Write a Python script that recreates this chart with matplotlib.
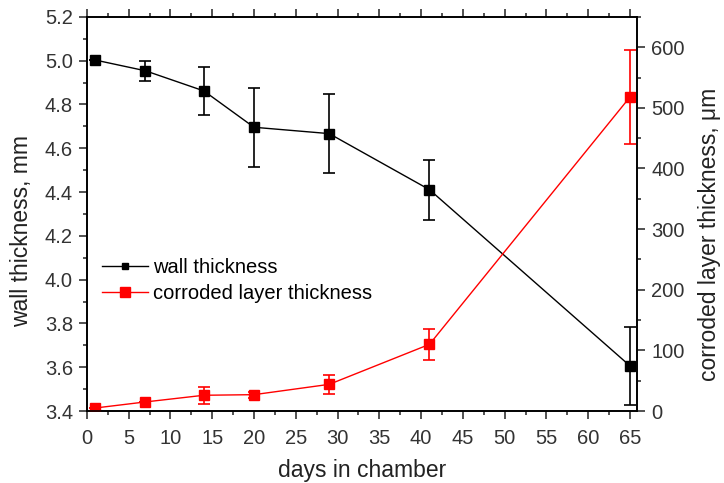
import matplotlib
matplotlib.use("Agg")
import matplotlib.pyplot as plt
from matplotlib.ticker import MultipleLocator
from matplotlib.lines import Line2D

plt.rcParams["font.family"] = ["Liberation Sans", "DejaVu Sans"]
plt.rcParams["font.size"] = 14.5

# data
days = [1, 7, 14, 20, 29, 41, 65]
wall = [5.003, 4.954, 4.862, 4.696, 4.667, 4.411, 3.606]
wall_err = [0.0, 0.045, 0.11, 0.18, 0.18, 0.137, 0.18]
layer = [5, 15, 26, 27, 44, 110, 518]
layer_err = [0, 0, 14, 5, 16, 26, 78]

fig = plt.figure(figsize=(7.24, 4.83), dpi=100)
ax = fig.add_axes([0.120, 0.149, 0.760, 0.816])
ax2 = ax.twinx()

ax.errorbar(days, wall, yerr=wall_err, color="black", marker="s", ms=7,
            lw=1.0, elinewidth=1.2, capsize=4, capthick=1.2)
ax2.errorbar(days, layer, yerr=layer_err, color="red", marker="s", ms=7,
             lw=1.0, elinewidth=1.2, capsize=4, capthick=1.2)

ax.set_xlim(0, 65.85)
ax.set_ylim(3.4, 5.2)
ax2.set_ylim(0, 650)

ax.xaxis.set_major_locator(MultipleLocator(5))
ax.xaxis.set_minor_locator(MultipleLocator(2.5))
ax.yaxis.set_major_locator(MultipleLocator(0.2))
ax.yaxis.set_minor_locator(MultipleLocator(0.1))
ax.yaxis.set_major_formatter(plt.FormatStrFormatter("%.1f"))
ax2.set_yticks([0, 100, 200, 300, 400, 500, 600])
ax2.yaxis.set_minor_locator(MultipleLocator(50))

for a in (ax, ax2):
    a.tick_params(which="both", direction="out", width=1.1, colors="#222222",
                  labelcolor="#333333", labelsize=14.5)
    a.tick_params(which="major", length=6, pad=4)
    a.tick_params(which="minor", length=3)
    for s in a.spines.values():
        s.set_linewidth(1.2)
ax.tick_params(which="both", top=True)
ax.tick_params(axis="x", which="major", pad=7)

ax.set_xlabel("days in chamber", color="#222222", fontsize=16.5, labelpad=8)
ax.set_ylabel("wall thickness, mm", color="#222222", fontsize=16.5)
ax2.set_ylabel("corroded layer thickness, \u03bcm", color="#222222", fontsize=16.5)
ax.yaxis.set_label_coords(-0.098, 0.457)
ax2.yaxis.set_label_coords(1.111, 0.447)

h1 = Line2D([], [], color="black", lw=1.0, marker="s", ms=5)
h2 = Line2D([], [], color="red", lw=1.0, marker="s", ms=7)
ax.legend([h1, h2], ["wall thickness", "corroded layer thickness"],
          loc="upper left", bbox_to_anchor=(-0.006, 0.434), frameon=False,
          fontsize=14.5, handlelength=2.3, handletextpad=0.25, labelspacing=0.35)

fig.savefig("out.png", dpi=100)
